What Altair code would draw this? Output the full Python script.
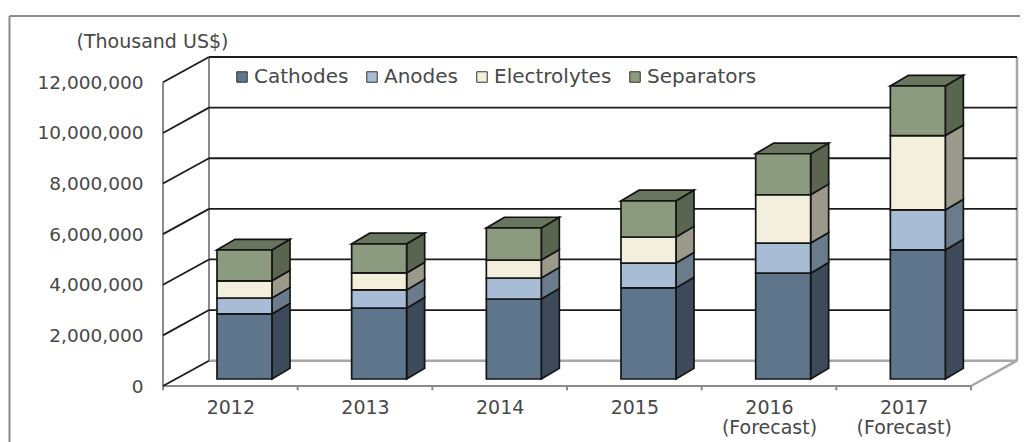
import altair as alt
import pandas as pd

years = ["2012", "2013", "2014", "2015", "2016", "2017"]
x_labels = [["2012"], ["2013"], ["2014"], ["2015"], ["2016", "(Forecast)"], ["2017", "(Forecast)"]]
series = ["Cathodes", "Anodes", "Electrolytes", "Separators"]
cathodes = [2570000, 2800000, 3160000, 3600000, 4180000, 5100000]
anodes = [630000, 720000, 830000, 980000, 1190000, 1580000]
electrolytes = [680000, 670000, 710000, 1030000, 1910000, 2940000]
separators = [1220000, 1150000, 1270000, 1430000, 1620000, 1960000]
y_ticks = [0, 2000000, 4000000, 6000000, 8000000, 10000000, 12000000]

front_colors = ["#5f758c", "#a8bdd5", "#f2f0dc", "#8c9b7f"]
side_colors = ["#3d4a5a", "#6a7b8c", "#9b998a", "#5a6550"]
top_color = "#6a7560"
edge = "#141414"
text_color = "#484848"
FONT = "DejaVu Sans"
FS = 18.5

PX_X = 134.67          # pixels per category
M = 1000000
WALL_DX, WALL_DY = 0.3416, 1.0 * M    # depth of the chart box
BAR_DX, BAR_DY = 0.134, 0.42 * M      # depth of a bar
BAR_L, BAR_W, BAR_BASE = 0.401, 0.408, 0.277 * M
W, H = 854, 329
XMAX = W / PX_X
YMAX = 13 * M
xs = alt.Scale(domain=[0, XMAX], range=[0, W], nice=False, zero=False)
ys = alt.Scale(domain=[0, YMAX], range=[H, 0], nice=False, zero=False)

values = [cathodes, anodes, electrolytes, separators]
fronts, sides, tops = [], [], []
for i, yr in enumerate(years):
    lo = BAR_BASE
    xl = i + BAR_L
    xr = xl + BAR_W
    for s, name in enumerate(series):
        hi = lo + values[s][i]
        fronts.append(dict(year=yr, series=name, x=xl, x2=xr, y=lo, y2=hi, amount=values[s][i]))
        for k in (0, 1):
            sides.append(dict(id=f"{yr}-{name}", series=name, x=xr + k * BAR_DX,
                              y=lo + k * BAR_DY, y2=hi + k * BAR_DY))
        lo = hi
    tops.extend([
        dict(id=yr, x=xl, y=lo, y2=lo),
        dict(id=yr, x=xl + BAR_DX, y=lo, y2=lo + BAR_DY),
        dict(id=yr, x=xr, y=lo, y2=lo + BAR_DY),
        dict(id=yr, x=xr + BAR_DX, y=lo + BAR_DY, y2=lo + BAR_DY),
    ])
fronts = pd.DataFrame(fronts)
sides = pd.DataFrame(sides)
tops = pd.DataFrame(tops)

# wall lines
dark, gray, pale = [], [], []
def seg(lst, key, pts):
    for p in pts:
        lst.append(dict(id=key, x=p[0], y=p[1]))
for v in y_ticks:
    seg(dark, f"d{v}", [(0, v), (WALL_DX, v + WALL_DY)])
    if v > 0:
        seg(dark, f"b{v}", [(WALL_DX, v + WALL_DY), (XMAX, v + WALL_DY)])
seg(gray, "left", [(0, 0), (0, 12 * M)])
seg(gray, "back", [(WALL_DX, WALL_DY), (WALL_DX, 13 * M)])
seg(pale, "right", [(XMAX, WALL_DY), (XMAX, 13 * M)])
seg(gray, "floorfront", [(0, 0), (6, 0)])
seg(pale, "floorback", [(WALL_DX, WALL_DY), (XMAX, WALL_DY)])
seg(pale, "floorright", [(6, 0), (XMAX, WALL_DY)])
for t in range(7):
    seg(gray, f"t{t}", [(t, 0), (t, -0.17 * M)])
dark = pd.DataFrame(dark)
gray = pd.DataFrame(gray)
pale = pd.DataFrame(pale)

# outer frame of the picture
frame = pd.DataFrame([
    dict(id="f", x=-1.14, y=-2.3 * M),
    dict(id="f", x=-1.14, y=14.62 * M),
    dict(id="g", x=-1.14, y=14.62 * M),
    dict(id="g", x=6.43, y=14.62 * M),
])

label_expr = "{" + ",".join(f"'{i + 0.5}':{l!r}" for i, l in enumerate(x_labels)) + "}[''+datum.value]"

x_axis = alt.Axis(
    values=[i + 0.5 for i in range(6)], title=None, domain=False, ticks=False, grid=False,
    labelExpr=label_expr, labelFont=FONT, labelFontSize=FS + 0.5, labelColor=text_color,
    labelPadding=12, labelLineHeight=20, labelFlush=False, labelOverlap=False)
y_axis = alt.Axis(
    values=y_ticks, labelExpr="format(datum.value, ',')", title="(Thousand US$)",
    domain=False, ticks=False, grid=False,
    labelFont=FONT, labelFontSize=FS, labelColor=text_color, labelPadding=20,
    titleFont=FONT, titleFontSize=FS + 0.5, titleFontWeight="normal", titleColor=text_color,
    titleAngle=0, titleAlign="center", titleBaseline="middle", titleX=-11, titleY=-16)

X = alt.X("x:Q", scale=xs, axis=x_axis)
Y = alt.Y("y:Q", scale=ys, axis=y_axis)
Y2 = alt.Y2("y2:Q")

axes = alt.Chart(gray).mark_line(color="#8a8a8a", strokeWidth=2).encode(x=X, y=Y, detail="id:N")
pale_layer = alt.Chart(pale).mark_line(color="#a6a6a6", strokeWidth=2.5).encode(x=X, y=Y, detail="id:N")
frame_layer = alt.Chart(frame).mark_line(color="#8c8c8c", strokeWidth=2).encode(x=X, y=Y, detail="id:N")
dark_layer = alt.Chart(dark).mark_line(color="#1c1c1c", strokeWidth=1.8).encode(x=X, y=Y, detail="id:N")

side_layers = [
    alt.Chart(sides[sides.series == name]).mark_area(
        fill=side_colors[s], stroke=edge, strokeWidth=1.7, opacity=1
    ).encode(x=X, y=Y, y2=Y2, detail="id:N")
    for s, name in enumerate(series)
]
top_layer = alt.Chart(tops).mark_area(fill=top_color, stroke=edge, strokeWidth=1.7, opacity=1).encode(
    x=X, y=Y, y2=Y2, detail="id:N")

bars = alt.Chart(fronts).mark_bar(stroke=edge, strokeWidth=1.7).encode(
    x=X, x2="x2:Q", y=Y, y2=Y2,
    fill=alt.Fill("series:N", sort=series,
                  scale=alt.Scale(domain=series, range=front_colors),
                  legend=alt.Legend(
                      orient="none", legendX=69, legendY=10, direction="horizontal", columns=4,
                      title=None, symbolType="square", symbolSize=110, symbolStrokeColor="#333333",
                      symbolStrokeWidth=1, labelFont=FONT, labelFontSize=20, labelColor=text_color,
                      labelOffset=2, columnPadding=13, labelLimit=200)),
)

chart = alt.layer(axes, pale_layer, frame_layer, dark_layer, *side_layers, top_layer, bars).properties(
    width=W, height=H, padding={"left": 155, "top": 49, "right": 3, "bottom": 56},
    autosize=alt.AutoSizeParams(type="none"), background="white",
).configure_view(stroke=None)

chart.save("out.html", embed_options={"renderer": "svg", "actions": False})
